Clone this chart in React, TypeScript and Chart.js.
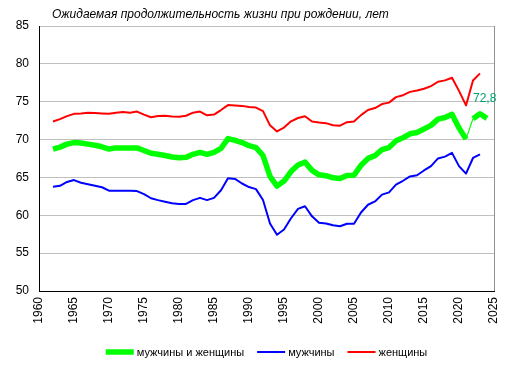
import React, { useEffect, useRef } from "react";
import { Chart, registerables } from "chart.js";

Chart.register(...registerables);

const TITLE = "Ожидаемая продолжительность жизни при рождении, лет";
const SERIES_NAMES = ["мужчины и женщины", "мужчины", "женщины"];
const SERIES_COLORS = ["#00ff00", "#0000ff", "#ff0000"];
const LABEL_COLOR = "#00a070";
const FONT = "'Liberation Sans', Arial, sans-serif";

const years = [
  1962, 1963, 1964, 1965, 1966, 1967, 1968, 1969, 1970, 1971, 1972, 1973, 1974, 1975, 1976, 1977,
  1978, 1979, 1980, 1981, 1982, 1983, 1984, 1985, 1986, 1987, 1988, 1989, 1990, 1991, 1992, 1993,
  1994, 1995, 1996, 1997, 1998, 1999, 2000, 2001, 2002, 2003, 2004, 2005, 2006, 2007, 2008, 2009,
  2010, 2011, 2012, 2013, 2014, 2015, 2016, 2017, 2018, 2019, 2020, 2021, 2022, 2023,
];
const totalYears = [...years, 2024];

const total = [
  68.75, 69.0, 69.4, 69.6, 69.55, 69.4, 69.25, 69.05, 68.75, 68.9, 68.9, 68.9, 68.9, 68.55, 68.2, 68.05,
  67.9, 67.7, 67.6, 67.65, 68.05, 68.3, 68.05, 68.3, 68.85, 70.13, 69.9, 69.6, 69.19, 68.93, 67.89, 65.14,
  63.85, 64.52, 65.77, 66.64, 67.02, 65.93, 65.34, 65.23, 64.95, 64.85, 65.27, 65.3, 66.6, 67.51, 67.88, 68.67,
  68.94, 69.83, 70.24, 70.76, 70.93, 71.39, 71.87, 72.7, 72.91, 73.34, 71.54, 70.06, 72.76, 73.41, 72.8,
];
const men = [
  63.78, 63.9, 64.4, 64.65, 64.3, 64.1, 63.9, 63.7, 63.25, 63.25, 63.25, 63.25, 63.2, 62.8, 62.25, 62.0,
  61.8, 61.6, 61.5, 61.5, 62.0, 62.3, 62.0, 62.3, 63.3, 64.9, 64.8, 64.2, 63.73, 63.46, 62.02, 58.91,
  57.42, 58.12, 59.61, 60.84, 61.19, 59.86, 59.0, 58.92, 58.68, 58.55, 58.89, 58.87, 60.37, 61.39, 61.83, 62.73,
  63.03, 64.04, 64.56, 65.13, 65.29, 65.92, 66.5, 67.51, 67.75, 68.24, 66.49, 65.51, 67.57, 68.04,
];
const women = [
  72.38, 72.7, 73.1, 73.4, 73.45, 73.55, 73.5, 73.45, 73.4, 73.55, 73.65, 73.55, 73.7, 73.3, 72.95, 73.1,
  73.15, 73.05, 73.0, 73.15, 73.55, 73.7, 73.2, 73.3, 73.9, 74.55, 74.5, 74.45, 74.3, 74.23, 73.75, 71.88,
  71.07, 71.59, 72.41, 72.85, 73.08, 72.39, 72.25, 72.17, 71.9, 71.84, 72.3, 72.39, 73.23, 73.9, 74.16, 74.69,
  74.88, 75.61, 75.86, 76.3, 76.47, 76.71, 77.06, 77.64, 77.82, 78.17, 76.43, 74.51, 77.8, 78.74,
];
const THIN_SEGMENT_START = 2021;

const decor = {
  id: "decor",
  afterDraw(chart: any) {
    const { ctx, chartArea: a } = chart;
    ctx.save();
    // right border
    ctx.strokeStyle = "#909090";
    ctx.lineWidth = 1;
    const rx = Math.round(a.right) + 0.5;
    ctx.beginPath();
    ctx.moveTo(rx, a.top);
    ctx.lineTo(rx, a.bottom);
    ctx.stroke();

    // title
    ctx.font = `italic 12px ${FONT}`;
    ctx.fillStyle = "#000";
    ctx.textAlign = "left";
    ctx.textBaseline = "middle";
    ctx.fillText(TITLE, a.left + 13, 15);

    // last value label
    const meta = chart.getDatasetMeta(0);
    const pt = meta.data[meta.data.length - 1];
    ctx.font = `12px ${FONT}`;
    ctx.fillStyle = LABEL_COLOR;
    ctx.fillText(total[total.length - 1].toFixed(1).replace(".", ","), pt.x - 14, pt.y - 20);

    // legend
    ctx.font = `11px ${FONT}`;
    const lineLen = 28;
    const gapText = 3;
    const gapItem = 13;
    const widths = SERIES_NAMES.map((n) => lineLen + gapText + ctx.measureText(n).width);
    const totalW = widths.reduce((s, w) => s + w, 0) + gapItem * (widths.length - 1);
    let x = (a.left + a.right) / 2 - totalW / 2;
    const y = 352;
    SERIES_NAMES.forEach((n, i) => {
      ctx.strokeStyle = SERIES_COLORS[i];
      ctx.lineWidth = i === 0 ? 5.5 : 2;
      ctx.beginPath();
      ctx.moveTo(x, y);
      ctx.lineTo(x + lineLen, y);
      ctx.stroke();
      ctx.fillStyle = "#000";
      ctx.fillText(n, x + lineLen + gapText, y + 1);
      x += widths[i] + gapItem;
    });
    ctx.restore();
  },
};

export default function App() {
  const ref = useRef<HTMLCanvasElement | null>(null);
  useEffect(() => {
    if (!ref.current) return;
    Chart.defaults.font.family = FONT;
    Chart.defaults.font.size = 12;
    Chart.defaults.color = "#000";
    const chart = new Chart(ref.current, {
      type: "line",
      data: {
        datasets: [
          {
            label: SERIES_NAMES[0],
            data: totalYears.map((yr, i) => ({ x: yr, y: total[i] })),
            borderColor: SERIES_COLORS[0],
            borderWidth: 5.5,
            borderJoinStyle: "round",
            pointRadius: 0,
            segment: {
              borderWidth: (c: any) => (totalYears[c.p0DataIndex] === THIN_SEGMENT_START ? 1.2 : undefined),
            },
          },
          {
            label: SERIES_NAMES[1],
            data: years.map((yr, i) => ({ x: yr, y: men[i] })),
            borderColor: SERIES_COLORS[1],
            borderWidth: 2,
            borderJoinStyle: "round",
            pointRadius: 0,
          },
          {
            label: SERIES_NAMES[2],
            data: years.map((yr, i) => ({ x: yr, y: women[i] })),
            borderColor: SERIES_COLORS[2],
            borderWidth: 2,
            borderJoinStyle: "round",
            pointRadius: 0,
          },
        ],
      },
      options: {
        animation: false,
        responsive: false,
        devicePixelRatio: 1,
        layout: { padding: { top: 26, right: 15, bottom: 0, left: 0 } },
        plugins: { legend: { display: false }, tooltip: { enabled: false }, title: { display: false } },
        scales: {
          x: {
            type: "linear",
            min: 1960,
            max: 2025,
            ticks: { stepSize: 5, minRotation: 90, maxRotation: 90, padding: 6, font: { size: 12 }, callback: (v: any) => String(v) },
            grid: { display: true, color: "transparent", drawTicks: false },
            border: { display: true, color: "#000", width: 1 },
            afterFit: (s: any) => {
              s.height = 80;
              s.paddingLeft = 0;
              s.paddingRight = 0;
            },
          },
          y: {
            min: 50,
            max: 85,
            ticks: { stepSize: 5, padding: 10, font: { size: 12 } },
            grid: { color: "#c0c0c0", drawTicks: false },
            border: { display: true, color: "#000", width: 1 },
            afterFit: (s: any) => {
              s.width = 39;
              s.paddingTop = 0;
              s.paddingBottom = 0;
            },
          },
        },
      },
      plugins: [decor],
    } as any);
    return () => chart.destroy();
  }, []);
  return (
    <div style={{ position: "fixed", left: 0, top: 0, width: 509, height: 371, background: "#fff" }}>
      <canvas ref={ref} width={509} height={371} style={{ width: 509, height: 371, display: "block" }} />
    </div>
  );
}
